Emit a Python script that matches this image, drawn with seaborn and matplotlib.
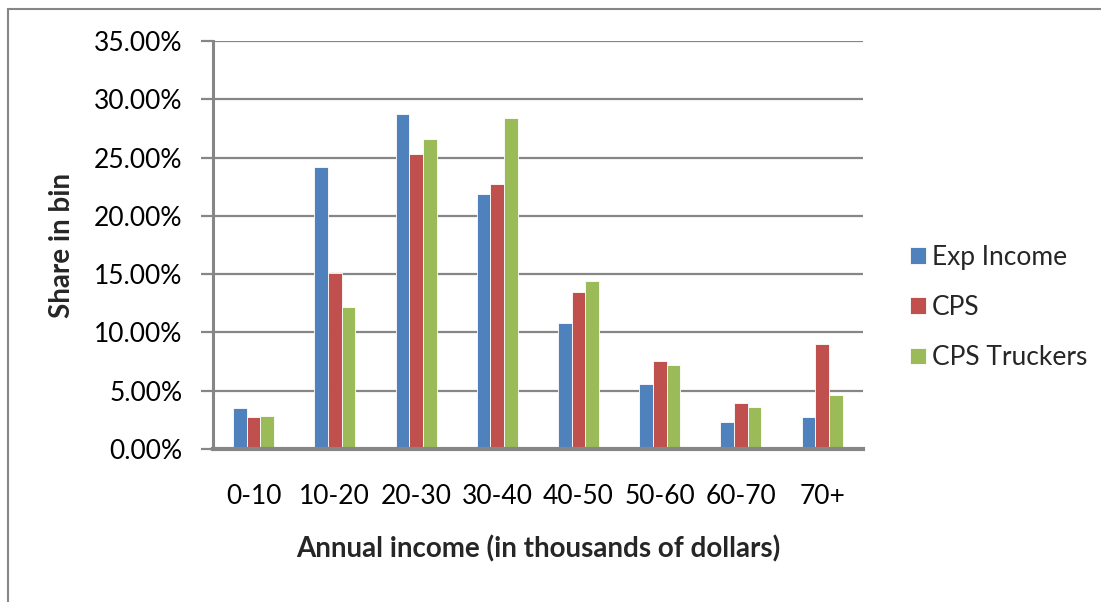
import matplotlib
matplotlib.use("Agg")
import matplotlib.pyplot as plt
import seaborn as sns
import pandas as pd
from matplotlib.patches import Rectangle
from matplotlib.ticker import FuncFormatter

categories = ["0-10", "10-20", "20-30", "30-40", "40-50", "50-60", "60-70", "70+"]
exp_income = [3.54, 24.23, 28.71, 21.89, 10.83, 5.57, 2.31, 2.77]
cps = [2.77, 15.14, 25.29, 22.71, 13.46, 7.57, 3.91, 8.97]
cps_truckers = [2.86, 12.20, 26.60, 28.40, 14.37, 7.17, 3.57, 4.66]
series_names = ["Exp Income", "CPS", "CPS Truckers"]
colors = ["#4F81BD", "#C0504D", "#9BBB59"]

rows = []
for name, vals in zip(series_names, [exp_income, cps, cps_truckers]):
    for c, v in zip(categories, vals):
        rows.append({"bin": c, "series": name, "share": v})
df = pd.DataFrame(rows)

sns.set_theme(style="white")
plt.rcParams["font.family"] = ["Lato", "DejaVu Sans"]

fig = plt.figure(figsize=(11.01, 6.02), dpi=100)
ax = fig.add_axes([213 / 1101, 1 - 449 / 602, (862.7 - 213) / 1101, (449 - 41) / 602])

sns.barplot(data=df, x="bin", y="share", hue="series", order=categories,
            hue_order=series_names, palette=colors, width=0.505, ax=ax,
            edgecolor="white", linewidth=0.6, saturation=1, errorbar=None)

ax.set_ylim(0, 35)
ax.set_yticks([0, 5, 10, 15, 20, 25, 30, 35])
ax.yaxis.set_major_formatter(FuncFormatter(lambda v, p: f"{v:.2f}%"))
ax.set_xlim(-0.5, len(categories) - 0.5)
ax.grid(axis="y", color="#868686", linewidth=1.6)
ax.set_axisbelow(True)
for s in ["top", "right"]:
    ax.spines[s].set_visible(False)
ax.spines["left"].set_color("#868686")
ax.spines["left"].set_linewidth(2.2)
ax.spines["bottom"].set_color("#868686")
ax.spines["bottom"].set_linewidth(3)
ax.tick_params(axis="y", which="major", length=9, width=1.6, color="#868686",
               direction="out", left=True, pad=13, labelsize=19, labelcolor="black")
ax.tick_params(axis="x", length=0, pad=25, labelsize=19, labelcolor="black")

ax.set_xlabel("Annual income (in thousands of dollars)", fontsize=20, fontweight="bold",
              labelpad=19)
ax.set_ylabel("Share in bin", fontsize=20, fontweight="bold", labelpad=14)

handles, labels = ax.get_legend_handles_labels()
ax.legend(handles, labels, loc="center left", bbox_to_anchor=(1.037, 0.347),
          frameon=False, fontsize=19, handlelength=0.57, handleheight=0.57,
          handletextpad=0.25, labelspacing=0.95)

fig.patches.append(Rectangle((7.5 / 1101, -0.05), 1.2, 1 - 8.5 / 602 + 0.05,
                             transform=fig.transFigure, fill=False,
                             edgecolor="#868686", linewidth=1.5, zorder=-1))

fig.savefig("out.png", dpi=100, facecolor="white")
